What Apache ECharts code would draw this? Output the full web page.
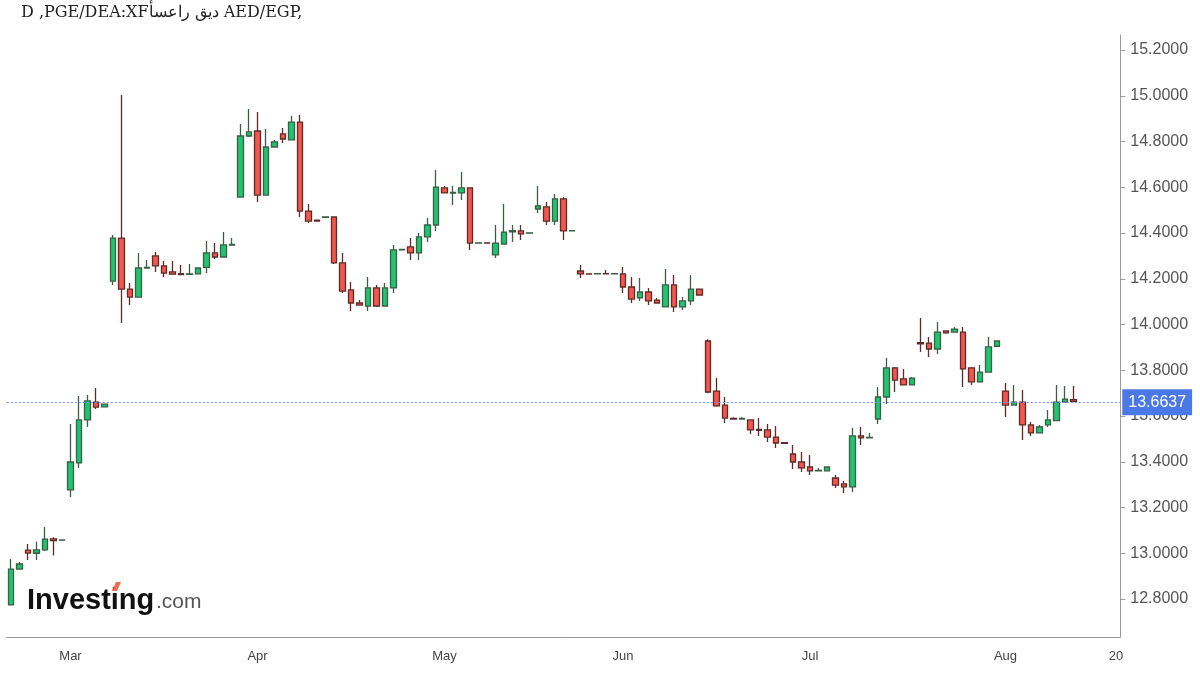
<!DOCTYPE html>
<html>
<head>
<meta charset="utf-8">
<script src="https://cdn.jsdelivr.net/npm/echarts@6/dist/echarts.min.js"></script>
<style>
html,body{margin:0;padding:0;background:#fff;}
#chart{width:1200px;height:675px;}
</style>
</head>
<body>
<div id="chart"></div>
<script>
const categories = [
'2015-02-19','2015-02-20','2015-02-23','2015-02-24','2015-02-25','2015-02-26','2015-02-27',
'2015-03-02','2015-03-03','2015-03-04','2015-03-05','2015-03-06','2015-03-09','2015-03-10','2015-03-11','2015-03-12','2015-03-13','2015-03-16','2015-03-17','2015-03-18','2015-03-19','2015-03-20','2015-03-23','2015-03-24','2015-03-25','2015-03-26','2015-03-27','2015-03-30','2015-03-31',
'2015-04-01','2015-04-02','2015-04-03','2015-04-06','2015-04-07','2015-04-08','2015-04-09','2015-04-10','2015-04-13','2015-04-14','2015-04-15','2015-04-16','2015-04-17','2015-04-20','2015-04-21','2015-04-22','2015-04-23','2015-04-24','2015-04-27','2015-04-28','2015-04-29','2015-04-30',
'2015-05-01','2015-05-04','2015-05-05','2015-05-06','2015-05-07','2015-05-08','2015-05-11','2015-05-12','2015-05-13','2015-05-14','2015-05-15','2015-05-18','2015-05-19','2015-05-20','2015-05-21','2015-05-22','2015-05-25','2015-05-26','2015-05-27','2015-05-28','2015-05-29',
'2015-06-01','2015-06-02','2015-06-03','2015-06-04','2015-06-05','2015-06-08','2015-06-09','2015-06-10','2015-06-11','2015-06-12','2015-06-15','2015-06-16','2015-06-17','2015-06-18','2015-06-19','2015-06-22','2015-06-23','2015-06-24','2015-06-25','2015-06-26','2015-06-29','2015-06-30',
'2015-07-01','2015-07-02','2015-07-03','2015-07-06','2015-07-07','2015-07-08','2015-07-09','2015-07-10','2015-07-13','2015-07-14','2015-07-15','2015-07-16','2015-07-17','2015-07-20','2015-07-21','2015-07-22','2015-07-23','2015-07-24','2015-07-27','2015-07-28','2015-07-29','2015-07-30','2015-07-31',
'2015-08-03','2015-08-04','2015-08-05','2015-08-06','2015-08-07','2015-08-10','2015-08-11','2015-08-12','2015-08-13','2015-08-14','2015-08-17','2015-08-18','2015-08-19','2015-08-20'
];

const opens = [
12.774,12.931,13.014,13.000,13.015,13.063,13.057,
13.277,13.395,13.583,13.661,13.640,14.190,14.378,14.155,14.120,14.247,14.300,14.256,14.230,14.222,14.219,14.221,14.250,14.313,14.295,14.347,14.557,14.824,
14.846,14.566,14.776,14.833,14.807,14.885,14.496,14.456,14.468,14.470,14.269,14.151,14.094,14.081,14.160,14.081,14.160,14.326,14.339,14.313,14.383,14.435,
14.597,14.574,14.575,14.597,14.356,14.357,14.304,14.352,14.405,14.409,14.400,14.505,14.514,14.452,14.549,14.409,14.234,14.221,14.221,14.222,14.221,
14.221,14.164,14.116,14.142,14.107,14.077,14.173,14.077,14.103,14.155,13.928,13.709,13.648,13.590,13.587,13.583,13.541,13.539,13.508,13.484,13.434,13.399,
13.377,13.360,13.360,13.329,13.303,13.290,13.513,13.504,13.587,13.683,13.810,13.762,13.736,13.921,13.919,13.893,13.972,13.967,13.967,13.810,13.749,13.792,13.905,
13.709,13.648,13.661,13.561,13.526,13.561,13.580,13.661,13.672
];
const closes = [
12.931,12.953,13.001,13.015,13.062,13.055,13.058,
13.399,13.583,13.666,13.639,13.652,14.378,14.155,14.120,14.247,14.250,14.256,14.225,14.220,14.218,14.221,14.247,14.313,14.295,14.348,14.350,14.824,14.842,
14.566,14.776,14.798,14.811,14.885,14.496,14.452,14.452,14.470,14.269,14.146,14.094,14.085,14.160,14.081,14.160,14.326,14.328,14.313,14.383,14.435,14.601,
14.575,14.577,14.597,14.356,14.357,14.356,14.356,14.404,14.410,14.396,14.401,14.518,14.452,14.549,14.409,14.410,14.221,14.220,14.222,14.221,14.222,
14.164,14.111,14.142,14.103,14.094,14.173,14.077,14.103,14.155,14.129,13.705,13.644,13.591,13.587,13.589,13.539,13.537,13.508,13.482,13.480,13.399,13.373,
13.360,13.362,13.377,13.298,13.290,13.513,13.504,13.506,13.683,13.810,13.757,13.736,13.766,13.915,13.893,13.967,13.963,13.980,13.806,13.749,13.792,13.902,13.928,
13.648,13.661,13.561,13.526,13.552,13.583,13.661,13.674,13.6637
];
const lows = [
12.774,12.930,12.970,12.970,13.010,12.990,13.055,
13.246,13.373,13.552,13.631,13.638,14.173,14.007,14.085,14.120,14.245,14.230,14.208,14.218,14.218,14.219,14.220,14.225,14.286,14.293,14.345,14.555,14.820,
14.536,14.565,14.775,14.793,14.805,14.470,14.444,14.450,14.466,14.265,14.138,14.059,14.083,14.059,14.077,14.080,14.138,14.325,14.282,14.282,14.361,14.409,
14.573,14.522,14.544,14.326,14.355,14.355,14.291,14.350,14.361,14.369,14.398,14.487,14.435,14.435,14.369,14.407,14.203,14.218,14.219,14.219,14.220,
14.138,14.094,14.103,14.085,14.092,14.075,14.055,14.063,14.085,14.127,13.700,13.640,13.569,13.585,13.585,13.521,13.513,13.486,13.460,13.478,13.368,13.355,
13.342,13.358,13.358,13.285,13.263,13.268,13.473,13.503,13.565,13.652,13.705,13.734,13.734,13.880,13.858,13.871,13.960,13.965,13.727,13.736,13.745,13.790,13.905,
13.596,13.646,13.495,13.513,13.524,13.552,13.578,13.660,13.660
];
const highs = [
12.975,12.962,13.040,13.050,13.115,13.070,13.060,
13.565,13.687,13.692,13.722,13.654,14.391,15.003,14.181,14.313,14.282,14.317,14.278,14.278,14.260,14.264,14.250,14.365,14.356,14.404,14.378,14.877,14.942,
14.929,14.855,14.807,14.859,14.911,14.916,14.527,14.458,14.472,14.472,14.313,14.186,14.107,14.208,14.173,14.181,14.348,14.330,14.378,14.400,14.466,14.675,
14.605,14.605,14.667,14.600,14.358,14.358,14.435,14.527,14.435,14.435,14.403,14.605,14.536,14.570,14.557,14.412,14.260,14.223,14.224,14.238,14.224,
14.251,14.208,14.203,14.160,14.116,14.243,14.216,14.120,14.216,14.157,13.935,13.766,13.683,13.595,13.595,13.585,13.591,13.565,13.556,13.486,13.473,13.443,
13.430,13.373,13.380,13.342,13.316,13.548,13.552,13.526,13.727,13.854,13.814,13.806,13.770,14.028,13.945,14.011,13.975,13.989,13.989,13.814,13.823,13.945,13.930,
13.744,13.735,13.714,13.574,13.561,13.626,13.735,13.731,13.731
];

const priceTicks = [12.8,13.0,13.2,13.4,13.6,13.8,14.0,14.2,14.4,14.6,14.8,15.0,15.2];
const xTickLabels = {
'2015-03-02':'Mar','2015-04-01':'Apr','2015-05-01':'May','2015-06-01':'Jun',
'2015-07-01':'Jul','2015-08-03':'Aug','2015-08-20':'20'
};
const lastPrice = 13.6637;
const titleText = 'D ,PGE/DEA:XF' + 'ديق راعسأ' + ' AED/EGP,';

const candleData = opens.map((o,i)=>[o, closes[i], lows[i], highs[i]]);

const chart = echarts.init(document.getElementById('chart'), null, {renderer:'canvas'});
chart.setOption({
  animation:false,
  backgroundColor:'#ffffff',
  title:{
    text:titleText,
    left:16, top:0,
    textStyle:{fontFamily:'DejaVu Serif', fontSize:16, fontWeight:'normal', color:'#222'}
  },
  grid:{left:6.75, right:79.75, top:35, bottom:38, containLabel:false},
  xAxis:{
    type:'category',
    data:categories,
    boundaryGap:true,
    axisLine:{show:true, lineStyle:{color:'#9a9a9a', width:1}},
    axisTick:{show:false},
    splitLine:{show:false},
    axisLabel:{
      interval:(idx,val)=>xTickLabels.hasOwnProperty(val),
      formatter:(val)=>xTickLabels[val]||'',
      color:'#444', fontSize:13, fontFamily:'Liberation Sans, Arial, sans-serif',
      margin:13
    }
  },
  yAxis:{
    type:'value',
    position:'right',
    min:12.6339, max:15.2656,
    scale:true,
    splitLine:{show:false},
    axisLine:{show:true, lineStyle:{color:'#9a9a9a', width:1}},
    axisTick:{show:true, length:5, customValues:priceTicks, lineStyle:{color:'#9a9a9a'}},
    axisLabel:{
      customValues:priceTicks,
      formatter:(v)=>v.toFixed(4),
      color:'#555', fontSize:16, fontFamily:'Liberation Sans, Arial, sans-serif',
      margin:10
    }
  },
  series:[{
    type:'candlestick',
    data:candleData,
    barWidth:6,
    itemStyle:{
      color:'#20c46e', color0:'#f2564d',
      borderColor:'#3a5e46', borderColor0:'#5e2c28',
      borderWidth:1.3
    },
    markLine:{
      silent:true,
      symbol:['none','none'],
      data:[{yAxis:lastPrice}],
      lineStyle:{color:'#6d8ef5', type:[2,2], width:1},
      label:{
        show:true, position:'end', distance:2,
        formatter:()=>lastPrice.toFixed(4),
        backgroundColor:'#4a78e6', color:'#fff',
        fontSize:16, fontFamily:'Liberation Sans, Arial, sans-serif',
        padding:[5,6,5,6]
      }
    }
  }],
  graphic:[
    {type:'text', x:27, y:615, z:10, style:{text:'Investing', font:'bold 29px "Liberation Sans", Arial, sans-serif', fill:'#111', verticalAlign:'bottom'}},
    {type:'text', x:156, y:613, z:10, style:{text:'.com', font:'21px "Liberation Sans", Arial, sans-serif', fill:'#555', verticalAlign:'bottom'}},
    {type:'polygon', z:20, shape:{points:[[112,591],[116,582],[121,582],[117,591]]}, style:{fill:'#f26a4b'}}
  ]
});
</script>
</body>
</html>
